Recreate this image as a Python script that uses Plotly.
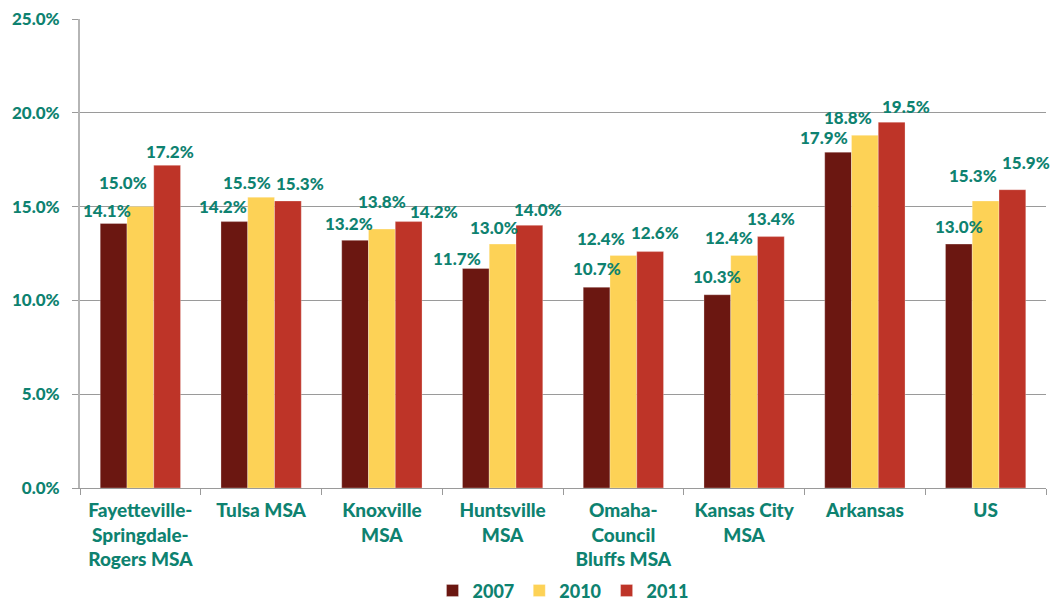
import plotly.graph_objects as go

categories = ["Fayetteville-<br>Springdale-<br>Rogers MSA", "Tulsa MSA", "Knoxville<br>MSA",
              "Huntsville<br>MSA", "Omaha-<br>Council<br>Bluffs MSA", "Kansas City<br>MSA",
              "Arkansas", "US"]
series_names = ["2007", "2010", "2011"]
v2007 = [14.1, 14.2, 13.2, 11.7, 10.7, 10.3, 17.9, 13.0]
v2010 = [15.0, 15.5, 13.8, 13.0, 12.4, 12.4, 18.8, 15.3]
v2011 = [17.2, 15.3, 14.2, 14.0, 12.6, 13.4, 19.5, 15.9]
values = [v2007, v2010, v2011]

colors = ["#6B1711", "#FDD256", "#BE3428"]
teal = "#0E8270"
FONT = "Lato"

# label placement styling (px offsets from each bar's top centre), mimicking manual placement
label_dx = [[-7, -11, -6, -19, 0, 0, -14, 0],
            [-17, -14, 0, -9, -22, -15, -17, -13],
            [3, 12, 25, 9, 5, 0, 14, 14]]
label_dy = [[13, 15, 17, 10, 19, 18, 15, 18],
            [24, 15, 28, 17, 17, 18, 18, 25],
            [14, 17, 10, 16, 19, 18, 16, 27]]

fig = go.Figure()
cat_ids = list(range(len(categories)))
for name, vals, col in zip(series_names, values, colors):
    fig.add_trace(go.Bar(
        name=name, x=cat_ids, y=vals,
        marker=dict(color=col, line=dict(color="rgba(255,255,255,0.35)", width=0.8)),
        hovertemplate="%{y:.1f}%<extra>" + name + "</extra>",
    ))

annotations = []
for s, vals in enumerate(values):
    for i, v in enumerate(vals):
        annotations.append(dict(
            x=i + (s - 1) * 0.2217, xref="x", y=v, yref="y",
            text=f"{v:.1f}%", showarrow=False, xanchor="center", yanchor="middle",
            xshift=label_dx[s][i], yshift=label_dy[s][i],
            font=dict(family=FONT, size=17, color=teal, weight=900),
        ))

fig.update_layout(
    width=1051, height=601,
    paper_bgcolor="white", plot_bgcolor="white",
    margin=dict(l=80, r=5, t=19, b=113, autoexpand=False),
    barmode="group", bargap=0.335, bargroupgap=0,
    font=dict(family=FONT, size=16, color=teal, weight=900),
    showlegend=True,
    legend=dict(orientation="h", x=0.5, xanchor="center", yref="container", y=0.017, yanchor="middle",
                font=dict(family=FONT, size=18, color=teal, weight=900),
                itemwidth=30, traceorder="normal"),
    annotations=annotations,
)
fig.update_xaxes(
    type="linear", range=[-0.5, 7.5], automargin=False,
    tickmode="array", tickvals=cat_ids, ticktext=categories,
    showline=True, linecolor="#9a9a9a", linewidth=1,
    ticks="", ticklabelstandoff=5,
    minor=dict(ticks="outside", tickvals=[i + 0.5 for i in range(-1, 8)], ticklen=6,
               tickcolor="#9a9a9a", showgrid=False),
    showgrid=False, zeroline=False,
    tickfont=dict(family=FONT, size=19, color=teal, weight=900),
)
fig.update_yaxes(
    range=[0, 25], dtick=5, tickformat=".1f", ticksuffix="%", automargin=False,
    showline=True, linecolor="#b5b5b5", linewidth=2,
    ticks="outside", ticklen=6, tickcolor="#9a9a9a",
    showgrid=True, gridcolor="#9a9a9a", gridwidth=1,
    zeroline=False, ticklabelstandoff=9,
    tickfont=dict(family=FONT, size=17, color=teal, weight=900),
)

fig.write_html("out.html", config={"displayModeBar": False},
               post_script="document.body.style.margin='0';document.body.style.overflow='hidden';")
